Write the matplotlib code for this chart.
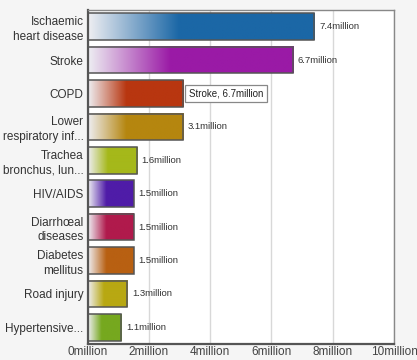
import numpy as np
import matplotlib.pyplot as plt
from matplotlib.colors import to_rgb

plt.rcParams['font.family'] = ['Liberation Sans', 'DejaVu Sans']

# deaths in millions
causes = ["Ischaemic\nheart disease", "Stroke", "COPD", "Lower\nrespiratory inf...",
          "Trachea\nbronchus, lun...", "HIV/AIDS", "Diarrhœal\ndiseases",
          "Diabetes\nmellitus", "Road injury", "Hypertensive..."]
deaths = [7.4, 6.7, 3.1, 3.1, 1.6, 1.5, 1.5, 1.5, 1.3, 1.1]
labels = ["7.4million", "6.7million", "", "3.1million", "1.6million",
          "1.5million", "1.5million", "1.5million", "1.3million", "1.1million"]
colors = ["#1b67a6", "#9a1aa6", "#b83610", "#b5860f", "#a5b81a",
          "#4f1ca8", "#b01a4c", "#b86012", "#b8a812", "#76a81f"]
xticks = [0, 2, 4, 6, 8, 10]

fig = plt.figure(figsize=(4.17, 3.6), dpi=100)
fig.patch.set_facecolor("#f5f5f5")
ax = fig.add_axes([0.21, 0.0444, 0.735, 0.928])
ax.set_facecolor("white")

bar_h = 0.8
start = np.array(to_rgb("#eeeef2"))
ramp = np.clip(np.linspace(0, 1, 200) / 0.4, 0, 1)
for i, (v, c) in enumerate(zip(deaths, colors)):
    col = np.array(to_rgb(c))
    img = start[None, :] * (1 - ramp[:, None]) + col[None, :] * ramp[:, None]
    ax.imshow(img[None, :, :], extent=[0, v, i + bar_h / 2, i - bar_h / 2],
              aspect="auto", zorder=2, interpolation="bilinear")

ax.barh(range(len(deaths)), deaths, height=bar_h, fill=False,
        edgecolor="#555555", linewidth=1.1, zorder=3)

for i, (v, t) in enumerate(zip(deaths, labels)):
    if t:
        ax.text(v + 0.15, i, t, va="center", ha="left", fontsize=6.8, color="#333333")

# tooltip
ax.text(3.3, 2, "Stroke, 6.7million", va="center", ha="left", fontsize=7,
        color="#222222", zorder=5,
        bbox=dict(boxstyle="square,pad=0.4", fc="white", ec="#888888", lw=0.9))

ax.set_xlim(0, 10)
ax.set_ylim(len(deaths) - 0.5, -0.5)
ax.set_xticks(xticks)
ax.set_xticklabels([f"{x}million" for x in xticks], fontsize=8.5, color="#444444")
ax.set_yticks(range(len(causes)))
ax.set_yticklabels(causes, fontsize=8.5, color="#333333", linespacing=1.3)
ax.tick_params(axis="x", length=0, pad=1.5)
ax.tick_params(axis="y", length=0, pad=3)
ax.grid(axis="x", color="#d8d8d8", linewidth=1, zorder=0)
ax.set_axisbelow(True)

for s in ["left", "bottom"]:
    ax.spines[s].set_color("#555555")
    ax.spines[s].set_linewidth(1.6)
for s in ["top", "right"]:
    ax.spines[s].set_color("#888888")
    ax.spines[s].set_linewidth(1.0)

fig.savefig("out.png", dpi=100, facecolor=fig.get_facecolor())
